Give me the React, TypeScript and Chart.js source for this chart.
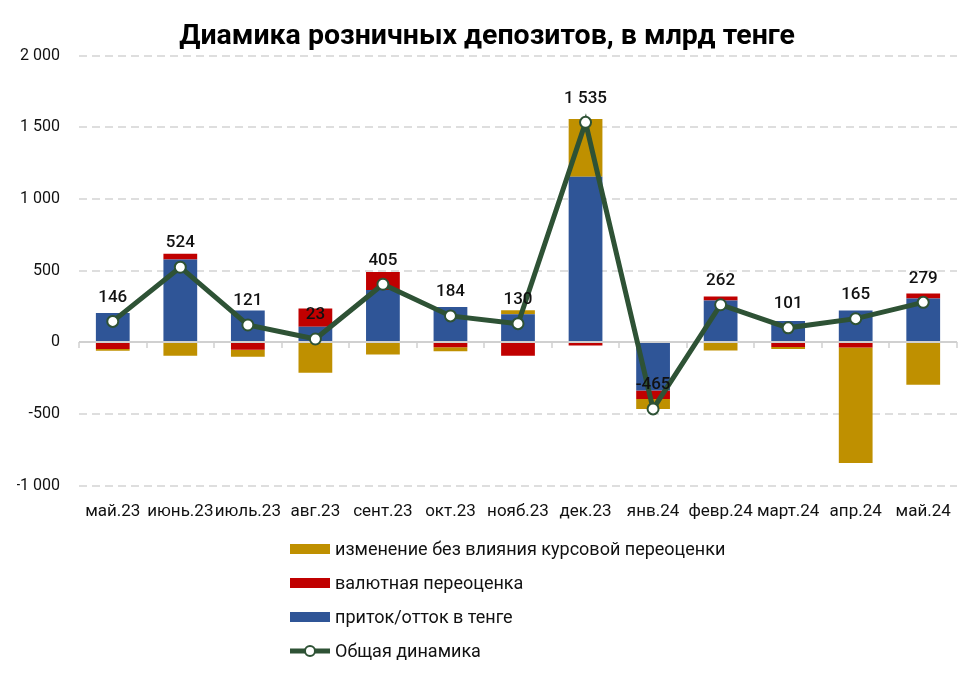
import React, { useEffect, useRef } from "react";
import { Chart, registerables } from "chart.js";

Chart.register(...registerables);

const categories = ["май.23", "июнь.23", "июль.23", "авг.23", "сент.23", "окт.23", "нояб.23", "дек.23", "янв.24", "февр.24", "март.24", "апр.24", "май.24"];
const flowKzt = [205, 578, 222, 108, 365, 246, 196, 1155, -337, 292, 148, 222, 306];
const fxRevaluation = [-47, 40, -52, 127, 126, -35, -94, -23, -58, 28, -32, -37, 35];
const changeExFx = [-12, -94, -49, -212, -86, -27, 28, 403, -70, -58, -15, -805, -296];
const totalChange = [146, 524, 121, 23, 405, 184, 130, 1535, -465, 262, 101, 165, 279];

const seriesNames = {
  changeExFx: "изменение без влияния курсовой переоценки",
  fx: "валютная переоценка",
  flow: "приток/отток в тенге",
  total: "Общая динамика",
};
const titleText = "Диамика розничных депозитов, в млрд тенге";

const BLUE = "#2F5597";
const RED = "#C00000";
const GOLD = "#BF9000";
const GREEN = "#2E5235";
const FONT = "Roboto";

function fmt(n: number): string {
  const s = Math.abs(Math.round(n)).toString().replace(/\B(?=(\d{3})+(?!\d))/g, " ");
  return (n < 0 ? "-" : "") + s;
}

const decorPlugin = {
  id: "decor",
  beforeDatasetsDraw(chart: any) {
    const { ctx, chartArea, scales } = chart;
    const y = scales.y;
    ctx.save();
    ctx.strokeStyle = "#D4D4D4";
    ctx.lineWidth = 1.5;
    ctx.setLineDash([8, 5]);
    y.ticks.forEach((t: any) => {
      if (t.value === 0) return;
      const py = Math.round(y.getPixelForValue(t.value));
      ctx.beginPath();
      ctx.moveTo(chartArea.left, py);
      ctx.lineTo(chartArea.right, py);
      ctx.stroke();
    });
    ctx.restore();
  },
  beforeDatasetDraw(chart: any, args: any) {
    if (args.meta.type !== "line") return;
    const { ctx, chartArea, scales } = chart;
    const y0 = Math.round(scales.y.getPixelForValue(0));
    ctx.save();
    ctx.strokeStyle = "#D0D0D0";
    ctx.lineWidth = 2;
    ctx.setLineDash([]);
    ctx.beginPath();
    ctx.moveTo(chartArea.left, y0);
    ctx.lineTo(chartArea.right, y0);
    ctx.stroke();
    ctx.lineWidth = 1.5;
    for (let i = 0; i <= categories.length; i++) {
      const px = Math.round(scales.x.getPixelForValue(i - 0.5));
      ctx.beginPath();
      ctx.moveTo(px, y0);
      ctx.lineTo(px, y0 + 6);
      ctx.stroke();
    }
    ctx.restore();
  },
  afterDatasetsDraw(chart: any) {
    const { ctx } = chart;
    const meta = chart.getDatasetMeta(3);
    ctx.save();
    ctx.font = `500 17px ${FONT}`;
    ctx.fillStyle = "#111111";
    ctx.textAlign = "center";
    ctx.textBaseline = "middle";
    meta.data.forEach((pt: any, i: number) => {
      ctx.fillText(fmt(totalChange[i]), pt.x, pt.y - 24);
    });
    ctx.restore();
  },
};

function ChartCanvas() {
  const ref = useRef<HTMLCanvasElement | null>(null);
  useEffect(() => {
    if (!ref.current) return;
    const chart = new Chart(ref.current, {
      type: "bar",
      data: {
        labels: categories,
        datasets: [
          { type: "bar", label: seriesNames.flow, data: flowKzt, backgroundColor: BLUE, stack: "bars", order: 1, barPercentage: 1, categoryPercentage: 0.5 },
          { type: "bar", label: seriesNames.fx, data: fxRevaluation, backgroundColor: RED, stack: "bars", order: 1, barPercentage: 1, categoryPercentage: 0.5 },
          { type: "bar", label: seriesNames.changeExFx, data: changeExFx, backgroundColor: GOLD, stack: "bars", order: 1, barPercentage: 1, categoryPercentage: 0.5 },
          {
            type: "line",
            label: seriesNames.total,
            data: totalChange,
            stack: "line",
            order: 0,
            borderColor: GREEN,
            borderWidth: 5,
            pointRadius: 5.5,
            pointBackgroundColor: "#FFFFFF",
            pointBorderColor: GREEN,
            pointBorderWidth: 2,
            tension: 0,
          } as any,
        ],
      },
      options: {
        responsive: false,
        animation: false,
        layout: { padding: { left: 17, right: 17, top: 0, bottom: 0 } },
        plugins: {
          legend: { display: false },
          tooltip: { enabled: false },
          title: {
            display: true,
            text: titleText,
            color: "#000000",
            font: { family: FONT, size: 28.5, weight: "bold" },
            padding: { top: 20, bottom: 1.5 },
          },
        },
        scales: {
          x: {
            stacked: true,
            grid: { display: false, drawTicks: false },
            border: { display: false },
            ticks: {
              autoSkip: false,
              maxRotation: 0,
              minRotation: 0,
              padding: 16,
              color: "#111111",
              font: { family: FONT, size: 17 },
            },
          },
          y: {
            stacked: true,
            min: -1000,
            max: 2000,
            grid: { display: false, drawTicks: false },
            border: { display: false },
            afterFit: (scale: any) => {
              scale.width = 62;
            },
            ticks: {
              stepSize: 500,
              padding: 19,
              color: "#111111",
              font: { family: FONT, size: 16 },
              callback: (v: any) => fmt(Number(v)),
            },
          },
        },
      },
      plugins: [decorPlugin],
    });
    return () => chart.destroy();
  }, []);
  return <canvas ref={ref} width={974} height={538} style={{ display: "block" }} />;
}

function LegendRow({ kind, color, text }: { kind: "box" | "line"; color: string; text: string }) {
  return (
    <div style={{ display: "flex", alignItems: "center", height: 34 }}>
      {kind === "box" ? (
        <div style={{ width: 40, height: 10, background: color, marginRight: 5 }} />
      ) : (
        <svg width={40} height={14} style={{ marginRight: 5 }}>
          <line x1={0} y1={7} x2={40} y2={7} stroke={color} strokeWidth={5} />
          <circle cx={20} cy={7} r={5} fill="#FFFFFF" stroke={color} strokeWidth={2} />
        </svg>
      )}
      <span>{text}</span>
    </div>
  );
}

export default function App() {
  return (
    <div style={{ position: "absolute", left: 0, top: 0, width: 974, height: 680, background: "#FFFFFF", overflow: "hidden" }}>
      <ChartCanvas />
      <div style={{ position: "absolute", left: 290, top: 532, fontFamily: FONT, fontSize: 18, color: "#111111", lineHeight: "20px" }}>
        <LegendRow kind="box" color={GOLD} text={seriesNames.changeExFx} />
        <LegendRow kind="box" color={RED} text={seriesNames.fx} />
        <LegendRow kind="box" color={BLUE} text={seriesNames.flow} />
        <LegendRow kind="line" color={GREEN} text={seriesNames.total} />
      </div>
    </div>
  );
}
